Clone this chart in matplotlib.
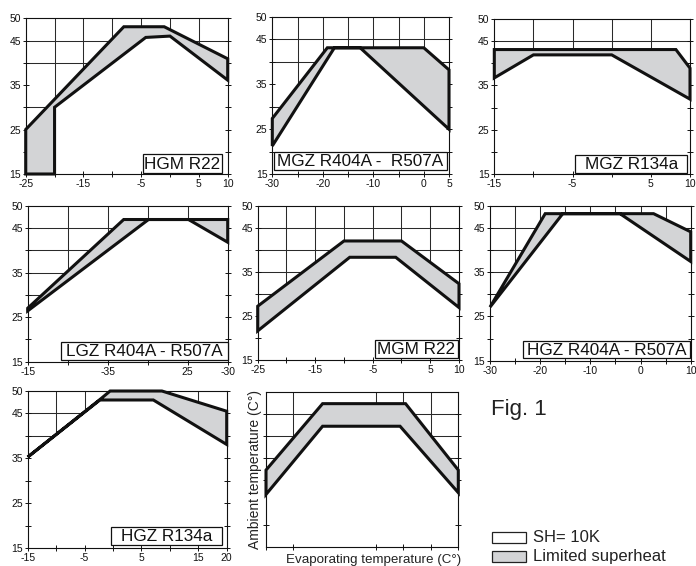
import matplotlib
matplotlib.use('Agg')
import matplotlib.pyplot as plt
from matplotlib.patches import Polygon, Rectangle

plt.rcParams['font.family'] = ['Liberation Sans', 'DejaVu Sans']

# ---------------- data ----------------
panel_titles = ['HGM R22', 'MGZ R404A -  R507A', 'MGZ R134a',
                'LGZ R404A - R507A', 'MGM R22', 'HGZ R404A - R507A',
                'HGZ R134a', '']

# HGM R22
hgm_r22_upper_x = [-25, -25, -8, -1, 10]
hgm_r22_upper_y = [15, 25, 48.1, 48.1, 40.9]
hgm_r22_lower_x = [-20, -20, -4.2, 0, 10]
hgm_r22_lower_y = [15, 30, 45.7, 46, 36.1]
hgm_r22_xticks = [-25, -20, -15, -10, -5, 0, 5, 10]
hgm_r22_xlabels = ['-25', '', '-15', '', '-5', '', '5', '10']

# MGZ R404A - R507A
mgz_r404_upper_x = [-30, -19.1, 0, 5]
mgz_r404_upper_y = [27.4, 43.1, 43.1, 38.2]
mgz_r404_lower_x = [-30, -17.7, -12.6, 5]
mgz_r404_lower_y = [21.3, 43.1, 43.1, 25]
mgz_r404_xticks = [-30, -25, -20, -15, -10, -5, 0, 5]
mgz_r404_xlabels = ['-30', '', '-20', '', '-10', '', '0', '5']

# MGZ R134a
mgz_r134_upper_x = [-15, 8.2, 10]
mgz_r134_upper_y = [43.1, 43.1, 38.9]
mgz_r134_lower_x = [-15, -10, 0, 10]
mgz_r134_lower_y = [36.7, 41.9, 41.9, 31.9]
mgz_r134_xticks = [-15, -10, -5, 0, 5, 10]
mgz_r134_xlabels = ['-15', '', '-5', '', '5', '10']

# LGZ R404A - R507A (tick labels as printed in the original)
lgz_r404_upper_x = [-40, -28, -15]
lgz_r404_upper_y = [27, 46.9, 46.9]
lgz_r404_lower_x = [-40, -24.9, -19.9, -15]
lgz_r404_lower_y = [26.4, 46.9, 46.9, 41.8]
lgz_r404_xticks = [-40, -35, -30, -25, -20, -15]
lgz_r404_xlabels = ['-15', '', '-35', '', '25', '-30']

# MGM R22
mgm_r22_upper_x = [-25, -10, 0, 10]
mgm_r22_upper_y = [27.2, 42.0, 42.0, 32.3]
mgm_r22_lower_x = [-25, -9, -1, 10]
mgm_r22_lower_y = [21.6, 38.3, 38.3, 26.9]
mgm_r22_xticks = [-25, -20, -15, -10, -5, 0, 5, 10]
mgm_r22_xlabels = ['-25', '', '-15', '', '-5', '', '5', '10']

# HGZ R404A - R507A
hgz_r404_upper_x = [-30, -19, 2.6, 10]
hgz_r404_upper_y = [27.1, 48.2, 48.2, 44.1]
hgz_r404_lower_x = [-30, -15.5, -4.1, 10]
hgz_r404_lower_y = [27.1, 48.2, 48.2, 37.4]
hgz_r404_xticks = [-30, -25, -20, -15, -10, -5, 0, 5, 10]
hgz_r404_xlabels = ['-30', '', '-20', '', '-10', '', '0', '', '10']

# HGZ R134a
hgz_r134_upper_x = [-15, -2.3, -0.5, 8.6, 20]
hgz_r134_upper_y = [35.3, 48.1, 50, 50, 45.5]
hgz_r134_lower_x = [-15, -2.3, 7.1, 20]
hgz_r134_lower_y = [35.3, 48.0, 48.0, 38.1]
hgz_r134_xticks = [-15, -10, -5, 0, 5, 10, 15, 20]
hgz_r134_xlabels = ['-15', '', '-5', '', '5', '', '15', '20']

# generic example panel
example_upper_x = [-25, -14.7, 0.4, 10]
example_upper_y = [32.3, 47.3, 47.3, 32.3]
example_lower_x = [-25, -14.7, -0.6, 10]
example_lower_y = [26.8, 42.2, 42.2, 27.2]
example_xticks = [-25, -20, -5, 0, 5, 10]
example_xlabels = ['', '', '', '', '', '']

y_ticks = [15, 20, 25, 30, 35, 40, 45, 50]
y_labels = ['15', '', '25', '', '35', '', '45', '50']
example_yticks = [20, 30, 35, 40, 45]

legend_labels = ['SH= 10K', 'Limited superheat']
axis_xlabel = 'Evaporating temperature (C\u00b0)'
axis_ylabel = 'Ambient temperature (C\u00b0)'
fig_title = 'Fig. 1'

# ---------------- layout (pixels) ----------------
W, H = 696, 566
GRAY = '#d3d4d6'

fig = plt.figure(figsize=(W / 100, H / 100), dpi=100)
fig.patch.set_facecolor('white')


def add_panel(rect, xlim, ux, uy, lx, ly, xticks, xlabels, xgrid, ygrid,
              yticks, ylabels, title, box):
    L, T, R, B = rect
    ax = fig.add_axes([L / W, 1 - B / H, (R - L) / W, (B - T) / H])
    ax.set_xlim(*xlim)
    ax.set_ylim(15, 50)
    for gx in xgrid:
        ax.axvline(gx, color='#2a2a2a', lw=0.75, zorder=0.5)
    for gy in ygrid:
        ax.axhline(gy, color='#2a2a2a', lw=0.75, zorder=0.5)
    white = Polygon(list(zip(lx, ly)) + [(lx[-1], 15), (lx[0], 15)],
                    closed=True, fc='white', ec='none', zorder=1, clip_on=False)
    ax.add_patch(white)
    gray = Polygon(list(zip(ux, uy)) + list(zip(lx, ly))[::-1], closed=True,
                   fc=GRAY, ec='#111111', lw=2.2, joinstyle='miter',
                   zorder=2, clip_on=False)
    ax.add_patch(gray)
    ax.set_xticks(xticks)
    ax.set_xticklabels(xlabels)
    ax.set_yticks(yticks)
    ax.set_yticklabels(ylabels)
    ax.tick_params(axis='both', direction='inout', length=4, width=0.7,
                   pad=1.5, labelsize=7.5, colors='#111111')
    ax.tick_params(axis='y', right=True)
    for s in ax.spines.values():
        s.set_linewidth(0.8)
        s.set_color('#111111')
        s.set_zorder(2.5)
    if title:
        bx0, bx1, by0, by1 = box
        ax.add_patch(Rectangle((bx0, by0), bx1 - bx0, by1 - by0,
                               transform=ax.transAxes, fc='white', ec='#111111',
                               lw=0.9, zorder=3, clip_on=False))
        ax.text((bx0 + bx1) / 2, (by0 + by1) / 2 - 0.005, title,
                transform=ax.transAxes, ha='center', va='center',
                fontsize=12.3, color='#111111', zorder=4)
    return ax


ygrid_a = [20, 30, 40, 45]
ygrid_b = [20, 30, 35, 40, 45]

add_panel((25.7, 18.3, 227.7, 174), (-25, 10),
          hgm_r22_upper_x, hgm_r22_upper_y, hgm_r22_lower_x, hgm_r22_lower_y,
          hgm_r22_xticks, hgm_r22_xlabels, [-20, -15, -10, -5, 0, 5], ygrid_a,
          y_ticks, y_labels, panel_titles[0], (0.581, 0.972, 0.006, 0.128))

add_panel((272.3, 16.7, 449, 174.3), (-30, 5),
          mgz_r404_upper_x, mgz_r404_upper_y, mgz_r404_lower_x, mgz_r404_lower_y,
          mgz_r404_xticks, mgz_r404_xlabels, [-25, -20, -15, -10, -5, 0], ygrid_a,
          y_ticks, y_labels, panel_titles[1], (0.011, 0.986, 0.027, 0.143))

add_panel((494.3, 19, 690, 174), (-15, 10),
          mgz_r134_upper_x, mgz_r134_upper_y, mgz_r134_lower_x, mgz_r134_lower_y,
          mgz_r134_xticks, mgz_r134_xlabels, [-10, -5, 0, 5], ygrid_b,
          y_ticks, y_labels, panel_titles[2], (0.413, 0.986, 0.005, 0.123))

add_panel((27.7, 205.7, 227.7, 361.7), (-40, -15),
          lgz_r404_upper_x, lgz_r404_upper_y, lgz_r404_lower_x, lgz_r404_lower_y,
          lgz_r404_xticks, lgz_r404_xlabels, [-35, -30, -25, -20], ygrid_b,
          y_ticks, y_labels, panel_titles[3], (0.1665, 1.0, 0.011, 0.128))

add_panel((257.7, 205.7, 459, 360), (-25, 10),
          mgm_r22_upper_x, mgm_r22_upper_y, mgm_r22_lower_x, mgm_r22_lower_y,
          mgm_r22_xticks, mgm_r22_xlabels, [-20, -15, -10, -5, 0, 5], ygrid_b,
          y_ticks, y_labels, panel_titles[4], (0.583, 0.994, 0.011, 0.130))

add_panel((490, 205.7, 690.7, 360.7), (-30, 10),
          hgz_r404_upper_x, hgz_r404_upper_y, hgz_r404_lower_x, hgz_r404_lower_y,
          hgz_r404_xticks, hgz_r404_xlabels, [-25, -20, -15, -10, -5, 0, 5], ygrid_b,
          y_ticks, y_labels, panel_titles[5], (0.166, 0.995, 0.015, 0.129))

add_panel((27.7, 391, 226.7, 548.3), (-15, 20),
          hgz_r134_upper_x, hgz_r134_upper_y, hgz_r134_lower_x, hgz_r134_lower_y,
          hgz_r134_xticks, hgz_r134_xlabels, [-10, -5, 0, 5, 10, 15], ygrid_b,
          y_ticks, y_labels, panel_titles[6], (0.419, 0.975, 0.021, 0.134))

ax8 = add_panel((266, 391.7, 458.3, 546.7), (-25, 10),
                example_upper_x, example_upper_y, example_lower_x, example_lower_y,
                example_xticks, example_xlabels, [-20, -5, 0, 5], ygrid_b,
                example_yticks, [''] * len(example_yticks), panel_titles[7], None)
ax8.text(-0.056, 0.5, axis_ylabel, transform=ax8.transAxes, rotation=90,
         ha='center', va='center', fontsize=10, color='#222222')
ax8.text(0.558, -0.086, axis_xlabel, transform=ax8.transAxes,
         ha='center', va='center', fontsize=9.6, color='#222222')

# Fig. 1
fig.text(491 / W, 1 - 415 / H, fig_title, ha='left', va='baseline',
         fontsize=16, color='#222222')

# legend
leg_colors = ['white', GRAY]
leg_rows = [(531.7, 543.3), (550.7, 561.7)]
for (t, b), col, lab in zip(leg_rows, leg_colors, legend_labels):
    fig.patches.append(Rectangle((492.3 / W, 1 - b / H), (525.7 - 492.3) / W,
                                 (b - t) / H, transform=fig.transFigure,
                                 fc=col, ec='#222222', lw=0.9))
    fig.text(533.3 / W, 1 - ((t + b) / 2) / H, lab, ha='left', va='center',
             fontsize=12, color='#222222')

fig.savefig('out.png', dpi=100)
